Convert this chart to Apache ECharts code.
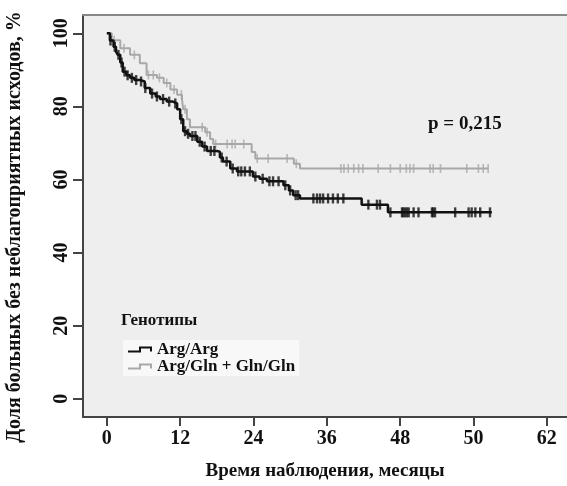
<!DOCTYPE html>
<html>
<head>
<meta charset="utf-8">
<script src="https://cdn.jsdelivr.net/npm/echarts@6/dist/echarts.min.js"></script>
<style>html,body{margin:0;padding:0;background:#fff}#c{width:567px;height:486px}</style>
</head>
<body>
<div id="c"></div>
<script>
// ---- data ----
const xTickValues = [0, 12, 24, 36, 48, 60, 72];
const xTickLabels = ['0', '12', '24', '36', '48', '50', '62'];
const yTickValues = [0, 20, 40, 60, 80, 100];

const argArgTime = [0, 0.5, 1.1, 1.5, 1.8, 2.2, 2.6, 3.2, 3.8, 4.5, 5.4, 6.2, 7.1, 8, 8.7, 9.8, 10.8, 11.5, 12, 12.5, 13.1, 13.6, 14.8, 15.6, 16.4, 18, 18.5, 19, 20.2, 21.3, 23.9, 25, 26.2, 28.9, 29.8, 30.5, 31.6, 41.7, 46, 63];
const argArgSurv = [100, 98, 96.3, 95, 94.1, 92, 89.5, 88.5, 87.8, 87.2, 86.8, 85, 83.5, 82.7, 82, 81.3, 80.8, 79.2, 76.5, 73.2, 72.5, 71.9, 70.3, 69, 67.8, 67.6, 66, 64.9, 63, 62.2, 60.8, 60.2, 59.5, 58.4, 57, 55.7, 54.8, 53.1, 51, 51];
const argArgCensor = [0.6, 1.3, 1.9, 2.4, 2.9, 3.4, 4.1, 4.8, 5.6, 6.3, 7.4, 8.2, 9.2, 10.2, 11.2, 12.2, 12.8, 13.3, 14, 14.5, 15.2, 16, 17, 17.6, 18.8, 19.6, 20.6, 21.5, 22, 22.6, 23.4, 24.3, 25.5, 26.6, 27.2, 28.1, 29.2, 30, 30.9, 31.3, 33.8, 34.4, 34.9, 35.4, 36.2, 37, 37.8, 38.7, 42.8, 44.2, 44.7, 46.4, 48.3, 48.5, 48.8, 49.1, 49.4, 50.2, 51, 53.2, 53.4, 53.7, 57, 59.2, 59.7, 60.3, 61.1, 62.7];

const glnTime = [0, 0.8, 2.2, 3.8, 5.4, 6.5, 8.2, 9.3, 10.4, 11.5, 12.3, 12.5, 13.1, 13.6, 16.1, 16.9, 17.4, 23.7, 24.3, 30.6, 31.6, 62.4];
const glnSurv = [100, 98.1, 95.9, 94.1, 91.8, 88.6, 87.8, 86.4, 84.6, 83.2, 81.9, 79.2, 76.5, 74.3, 72.9, 71.1, 69.7, 67.5, 65.7, 64.3, 63, 63];
const glnCensor = [1.2, 2.8, 4.5, 6.8, 7.6, 8.6, 9.8, 11, 12.2, 12.8, 15.6, 16.4, 17.8, 19.7, 20.5, 21, 22.4, 24.6, 26.4, 29.5, 31, 38.3, 38.8, 39.5, 40.4, 41.2, 41.9, 44.4, 46.4, 48, 49, 49.6, 50.2, 52.9, 53.4, 54.6, 58.9, 60.8, 61.6, 62.4];

const seriesNames = ['Arg/Arg', 'Arg/Gln + Gln/Gln'];

// ---- helpers ----
function pairs(t, s) { return t.map((v, i) => [v, s[i]]); }
function survAt(t, times, surv) {
  let v = surv[0];
  for (let i = 0; i < times.length; i++) { if (times[i] <= t) v = surv[i]; else break; }
  return v;
}
function censorPts(c, times, surv) { return c.map(t => [t, survAt(t, times, surv)]); }

const SERIF = '"Liberation Serif", "DejaVu Serif", serif';
const chart = echarts.init(document.getElementById('c'), null, {renderer: 'canvas'});
const stepIcon = 'path://M0,4 L11,4 L11,0 L24,0 L24,5 L22,5 L22,2 L13,2 L13,6 L0,6 Z';

chart.setOption({
  animation: false,
  backgroundColor: '#ffffff',
  grid: {left: 83, right: 0, top: 15, bottom: 64, show: true, backgroundColor: '#eeeeee', borderWidth: 0},
  xAxis: [{
    type: 'value', min: -3.9, max: 75.3,
    name: 'Время наблюдения, месяцы', nameLocation: 'middle', nameGap: 45,
    nameTextStyle: {fontFamily: SERIF, fontWeight: 'bold', fontSize: 19, color: '#111'},
    axisLine: {show: true, onZero: false, lineStyle: {color: '#444', width: 2}},
    axisTick: {show: true, customValues: xTickValues, length: 9, lineStyle: {color: '#444', width: 2}},
    axisLabel: {customValues: xTickValues, margin: 12, fontFamily: SERIF, fontWeight: 'bold', fontSize: 20, color: '#111',
      formatter: v => { const i = xTickValues.indexOf(v); return i >= 0 ? xTickLabels[i] : ''; }},
    splitLine: {show: false}
  }, {
    type: 'value', position: 'top', min: -3.9, max: 75.3,
    axisLine: {show: true, onZero: false, lineStyle: {color: '#888', width: 2}},
    axisTick: {show: false}, axisLabel: {show: false}, splitLine: {show: false}
  }],
  yAxis: {
    type: 'value', min: -5, max: 105,
    axisLine: {show: true, onZero: false, lineStyle: {color: '#444', width: 2}},
    axisTick: {show: true, customValues: yTickValues, length: 10, lineStyle: {color: '#444', width: 2}},
    axisLabel: {customValues: yTickValues, rotate: 90, margin: 11, fontFamily: SERIF, fontWeight: 'bold', fontSize: 20, color: '#111'},
    splitLine: {show: false}
  },
  legend: {
    orient: 'vertical', left: 123, top: 340, padding: [1, 4, 1, 5], itemGap: 0,
    itemWidth: 24, itemHeight: 6, backgroundColor: '#f8f8f8',
    textStyle: {fontFamily: SERIF, fontWeight: 'bold', fontSize: 17, color: '#111', lineHeight: 15},
    data: [{name: seriesNames[0], icon: stepIcon}, {name: seriesNames[1], icon: stepIcon}]
  },
  graphic: [
    {type: 'text', left: 121, top: 312, style: {text: 'Генотипы', font: 'bold 17px ' + SERIF, fill: '#111'}},
    {type: 'text', left: 428, top: 115, style: {text: 'p = 0,215', font: 'bold 19px ' + SERIF, fill: '#111'}},
    {type: 'text', x: 15, y: 227, rotation: Math.PI / 2,
      style: {text: 'Доля больных без неблагоприятных исходов, %', font: 'bold 20px ' + SERIF, fill: '#111', textAlign: 'center', textVerticalAlign: 'middle'}}
  ],
  series: [
    {name: seriesNames[1], type: 'line', step: 'end', symbol: 'none', color: '#a8a8a8',
      lineStyle: {color: '#a8a8a8', width: 2}, data: pairs(glnTime, glnSurv), z: 2},
    {name: seriesNames[1] + ' cens', type: 'scatter', symbol: 'rect', symbolSize: [1.6, 9], itemStyle: {color: '#a8a8a8'},
      data: censorPts(glnCensor, glnTime, glnSurv), z: 2},
    {name: seriesNames[0], type: 'line', step: 'end', symbol: 'none', color: '#111111',
      lineStyle: {color: '#111111', width: 2.5}, data: pairs(argArgTime, argArgSurv), z: 3},
    {name: seriesNames[0] + ' cens', type: 'scatter', symbol: 'rect', symbolSize: [2.4, 10], itemStyle: {color: '#111111'},
      data: censorPts(argArgCensor, argArgTime, argArgSurv), z: 3}
  ]
});
</script>
</body>
</html>
